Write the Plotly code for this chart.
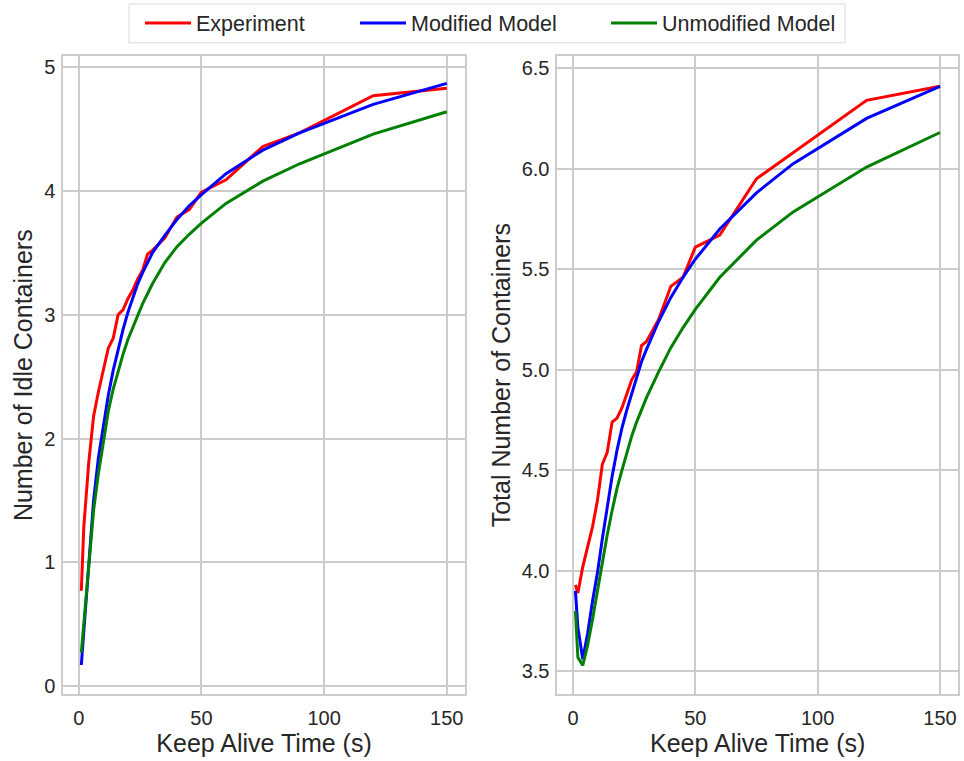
import plotly.graph_objects as go

# Keep alive times (s)
keep_alive = [1, 2, 4, 6, 8, 10, 12, 14, 16, 18, 20, 22, 24, 26, 28, 30, 35, 40, 45, 50, 60, 75, 90, 120, 150]

# Left panel: number of idle containers
idle_experiment = [0.77, 1.28, 1.80, 2.18, 2.38, 2.56, 2.73, 2.81, 3.00, 3.04, 3.13, 3.20, 3.29, 3.36, 3.49, 3.52, 3.62,
                   3.79, 3.85, 3.99, 4.09, 4.36, 4.47, 4.77, 4.83]
idle_modified = [0.17, 0.45, 1.00, 1.50, 1.85, 2.12, 2.35, 2.55, 2.72, 2.88, 3.02, 3.14, 3.25, 3.34, 3.42, 3.50, 3.64,
                 3.77, 3.88, 3.97, 4.14, 4.33, 4.47, 4.70, 4.87]
idle_unmodified = [0.27, 0.50, 0.95, 1.42, 1.72, 1.96, 2.22, 2.40, 2.55, 2.68, 2.80, 2.90, 3.00, 3.09, 3.17, 3.25, 3.42,
                   3.55, 3.65, 3.74, 3.90, 4.08, 4.22, 4.46, 4.64]

# Right panel: total number of containers
total_experiment = [3.93, 3.89, 4.02, 4.12, 4.22, 4.35, 4.53, 4.59, 4.74, 4.76, 4.81, 4.88, 4.95, 4.99, 5.12, 5.14, 5.25,
                    5.415, 5.46, 5.61, 5.67, 5.95, 6.08, 6.34, 6.41]
total_modified = [3.90, 3.72, 3.56, 3.69, 3.85, 3.99, 4.16, 4.32, 4.47, 4.60, 4.71, 4.80, 4.88, 4.97, 5.04, 5.10, 5.24,
                  5.36, 5.46, 5.55, 5.70, 5.88, 6.025, 6.25, 6.41]
total_unmodified = [3.80, 3.57, 3.53, 3.63, 3.76, 3.90, 4.05, 4.18, 4.30, 4.41, 4.50, 4.59, 4.67, 4.74, 4.80, 4.86, 4.99,
                    5.11, 5.21, 5.30, 5.46, 5.645, 5.785, 6.008, 6.18]

series_names = ["Experiment", "Modified Model", "Unmodified Model"]
series_colors = ["#ff0000", "#0000ff", "#008000"]
legend_ids = ["legend", "legend2", "legend3"]

FONT = "Liberation Sans, Arial, sans-serif"
TEXT = "#262626"
GRID = "#cccccc"

fig = go.Figure()
left = [idle_experiment, idle_modified, idle_unmodified]
right = [total_experiment, total_modified, total_unmodified]
for name, color, ys, lg in zip(series_names, series_colors, left, legend_ids):
    fig.add_trace(go.Scatter(x=keep_alive, y=ys, mode="lines", name=name, legend=lg,
                             line=dict(color=color, width=3), xaxis="x", yaxis="y"))
for name, color, ys in zip(series_names, series_colors, right):
    fig.add_trace(go.Scatter(x=keep_alive, y=ys, mode="lines", name=name, showlegend=False,
                             line=dict(color=color, width=3), xaxis="x2", yaxis="y2"))

axis_common = dict(showgrid=True, gridcolor=GRID, gridwidth=1.5, zeroline=False,
                   showline=True, linecolor=GRID, linewidth=1.5, mirror=True,
                   tickfont=dict(family=FONT, size=20, color=TEXT),
                   ticks="outside", tickcolor="rgba(0,0,0,0)")
title_font = dict(family=FONT, size=25, color=TEXT)

legend_common = dict(orientation="h", yanchor="middle", y=1 - 23 / 761, xanchor="left",
                     font=dict(family=FONT, size=21.5, color=TEXT), itemwidth=46,
                     borderwidth=0, bgcolor="rgba(0,0,0,0)")

fig.update_layout(
    width=964, height=761,
    margin=dict(l=0, r=0, t=0, b=0),
    paper_bgcolor="white", plot_bgcolor="white",
    font=dict(family=FONT, color=TEXT),
    xaxis=dict(domain=[0.0654, 0.4824], range=[-6.45, 157.45], tickvals=[0, 50, 100, 150], ticklen=5,
               title=dict(text="Keep Alive Time (s)", font=title_font, standoff=6),
               anchor="y", **axis_common),
    yaxis=dict(domain=[0.084, 0.926], range=[-0.067, 5.09], tickvals=[0, 1, 2, 3, 4, 5], ticklen=2,
               title=dict(text="Number of Idle Containers", font=title_font, standoff=4),
               anchor="x", **axis_common),
    xaxis2=dict(domain=[0.578, 0.994], range=[-6.45, 157.45], tickvals=[0, 50, 100, 150], ticklen=5,
                title=dict(text="Keep Alive Time (s)", font=title_font, standoff=6),
                anchor="y2", **axis_common),
    yaxis2=dict(domain=[0.084, 0.926], range=[3.386, 6.56], tickvals=[3.5, 4.0, 4.5, 5.0, 5.5, 6.0, 6.5],
                ticktext=["3.5", "4.0", "4.5", "5.0", "5.5", "6.0", "6.5"], ticklen=2,
                title=dict(text="Total Number of Containers", font=title_font, standoff=4),
                anchor="x2", **axis_common),
    legend=dict(x=140 / 964, **legend_common),
    legend2=dict(x=355 / 964, **legend_common),
    legend3=dict(x=606 / 964, **legend_common),
    shapes=[dict(type="rect", xref="paper", yref="paper",
                 x0=129 / 964, x1=845 / 964, y0=1 - 43 / 761, y1=1 - 4 / 761,
                 line=dict(color="#d9d9d9", width=1), fillcolor="rgba(0,0,0,0)", layer="above")],
    showlegend=True,
)

fig.write_html("out.html")
